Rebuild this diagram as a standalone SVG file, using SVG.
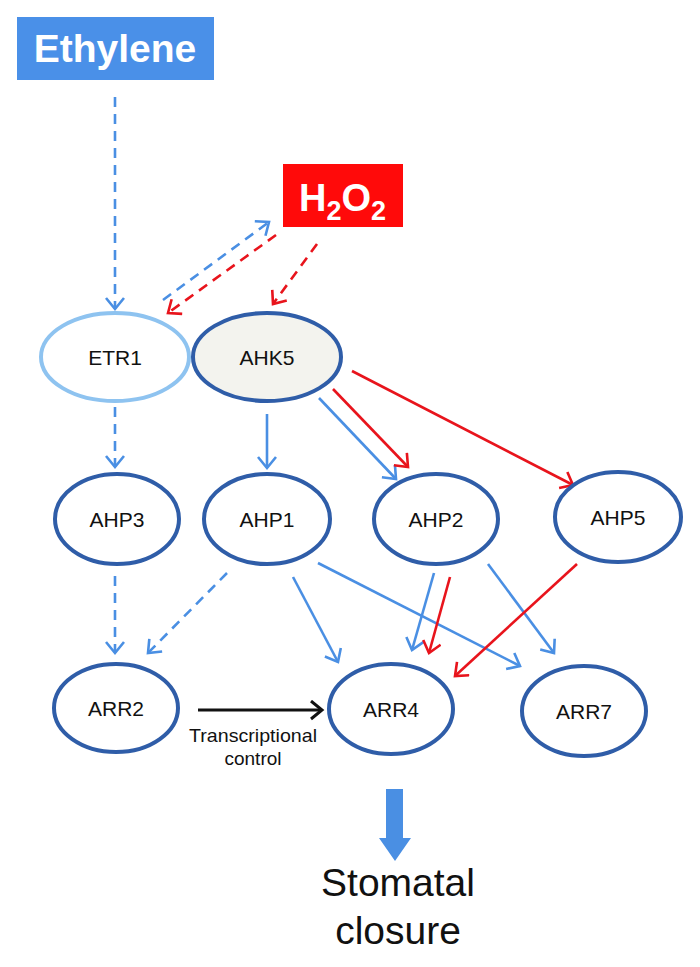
<svg xmlns="http://www.w3.org/2000/svg" width="700" height="967" viewBox="0 0 700 967">
<style>
.node{fill:#ffffff;stroke:#2f5da8;stroke-width:4}
.lbl{font-family:"Liberation Sans",Arial,sans-serif;font-size:21px;fill:#111;text-anchor:middle}
.cb{stroke:#4a8fe3;stroke-width:2.6;fill:none}
.cr{stroke:#e8141c;stroke-width:2.6;fill:none}
.dash{stroke-dasharray:10 7}
</style>
<defs>
<marker id="ab" markerUnits="userSpaceOnUse" markerWidth="22" markerHeight="22" refX="13" refY="10" orient="auto"><path d="M2,1 L13,10 L2,19" fill="none" stroke="#4a8fe3" stroke-width="2.6"/></marker>
<marker id="ar" markerUnits="userSpaceOnUse" markerWidth="22" markerHeight="22" refX="13" refY="10" orient="auto"><path d="M2,1 L13,10 L2,19" fill="none" stroke="#e8141c" stroke-width="2.6"/></marker>
<marker id="ak" markerUnits="userSpaceOnUse" markerWidth="22" markerHeight="22" refX="13" refY="10" orient="auto"><path d="M2,1 L13,10 L2,19" fill="none" stroke="#111" stroke-width="3"/></marker>
</defs>
<rect width="700" height="967" fill="#fff"/>

<g id="ethylene">
<rect x="17" y="17" width="197" height="63" fill="#4a90e8"/>
<text x="115" y="62" font-family="Liberation Sans,Arial,sans-serif" font-weight="bold" font-size="39" fill="#fff" text-anchor="middle">Ethylene</text>
</g>
<g id="h2o2">
<rect x="283" y="164" width="120" height="63" fill="#ff0a0a"/>
<text x="299" y="211" font-family="Liberation Sans,Arial,sans-serif" font-weight="bold" font-size="38" fill="#fff">H<tspan font-size="27" dy="9">2</tspan><tspan dy="-9">O</tspan><tspan font-size="27" dy="9">2</tspan></text>
</g>

<g id="connectors">
<line class="cb dash" x1="115" y1="97" x2="115" y2="309" marker-end="url(#ab)"/>
<line class="cb dash" x1="163" y1="300" x2="269" y2="222" marker-end="url(#ab)"/>
<line class="cr dash" x1="276" y1="235" x2="168" y2="313" marker-end="url(#ar)"/>
<line class="cr dash" x1="317" y1="244" x2="273" y2="304" marker-end="url(#ar)"/>
<line class="cb dash" x1="115" y1="407" x2="115" y2="467" marker-end="url(#ab)"/>
<line class="cb" x1="267" y1="414" x2="267" y2="468" marker-end="url(#ab)"/>
<line class="cb" x1="319" y1="398" x2="396" y2="479" marker-end="url(#ab)"/>
<line class="cr" x1="333" y1="389" x2="408" y2="467" marker-end="url(#ar)"/>
<line class="cr" x1="352" y1="371" x2="573" y2="485" marker-end="url(#ar)"/>
<line class="cb dash" x1="115" y1="576" x2="115" y2="653" marker-end="url(#ab)"/>
<line class="cb dash" x1="227" y1="573" x2="148" y2="653" marker-end="url(#ab)"/>
<line class="cb" x1="293" y1="577" x2="338" y2="662" marker-end="url(#ab)"/>
<line class="cb" x1="318" y1="563" x2="520" y2="666" marker-end="url(#ab)"/>
<line class="cb" x1="434" y1="573" x2="412" y2="650" marker-end="url(#ab)"/>
<line class="cr" x1="450" y1="577" x2="429" y2="653" marker-end="url(#ar)"/>
<line class="cb" x1="488" y1="564" x2="554" y2="653" marker-end="url(#ab)"/>
<line class="cr" x1="577" y1="564" x2="455" y2="676" marker-end="url(#ar)"/>
<line x1="198" y1="710" x2="322" y2="710" stroke="#111" stroke-width="3" marker-end="url(#ak)"/>
<path d="M386,789 L403,789 L403,838 L411,838 L395,861 L379,838 L386,838 Z" fill="#4a8fe3"/>
</g>

<g id="ETR1"><ellipse cx="115" cy="357" rx="74" ry="44" fill="#fff" stroke="#8ec3f0" stroke-width="4"/><text class="lbl" x="115" y="365">ETR1</text></g>
<g id="AHK5"><ellipse cx="267" cy="357" rx="74" ry="44" fill="#f3f3ee" stroke="#2f5da8" stroke-width="4"/><text class="lbl" x="267" y="365">AHK5</text></g>
<g id="AHP3"><ellipse class="node" cx="117" cy="519" rx="62" ry="45"/><text class="lbl" x="117" y="527">AHP3</text></g>
<g id="AHP1"><ellipse class="node" cx="267" cy="519" rx="63" ry="45"/><text class="lbl" x="267" y="527">AHP1</text></g>
<g id="AHP2"><ellipse class="node" cx="436" cy="519" rx="62" ry="45"/><text class="lbl" x="436" y="527">AHP2</text></g>
<g id="AHP5"><ellipse class="node" cx="618" cy="517" rx="63" ry="45"/><text class="lbl" x="618" y="525">AHP5</text></g>
<g id="ARR2"><ellipse class="node" cx="116" cy="708" rx="62" ry="44"/><text class="lbl" x="116" y="716">ARR2</text></g>
<g id="ARR4"><ellipse class="node" cx="391" cy="709" rx="62" ry="45"/><text class="lbl" x="391" y="717">ARR4</text></g>
<g id="ARR7"><ellipse class="node" cx="584" cy="711" rx="62" ry="45"/><text class="lbl" x="584" y="719">ARR7</text></g>

<g id="labels">
<text x="253" y="742" font-family="Liberation Sans,Arial,sans-serif" font-size="19" fill="#111" text-anchor="middle" textLength="128" lengthAdjust="spacingAndGlyphs">Transcriptional</text>
<text x="253" y="765" font-family="Liberation Sans,Arial,sans-serif" font-size="19" fill="#111" text-anchor="middle">control</text>
</g>
<g id="stomatal">
<text x="398" y="896" font-family="Liberation Sans,Arial,sans-serif" font-size="39" fill="#111" text-anchor="middle">Stomatal</text>
<text x="398" y="944" font-family="Liberation Sans,Arial,sans-serif" font-size="39" fill="#111" text-anchor="middle">closure</text>
</g>
</svg>
